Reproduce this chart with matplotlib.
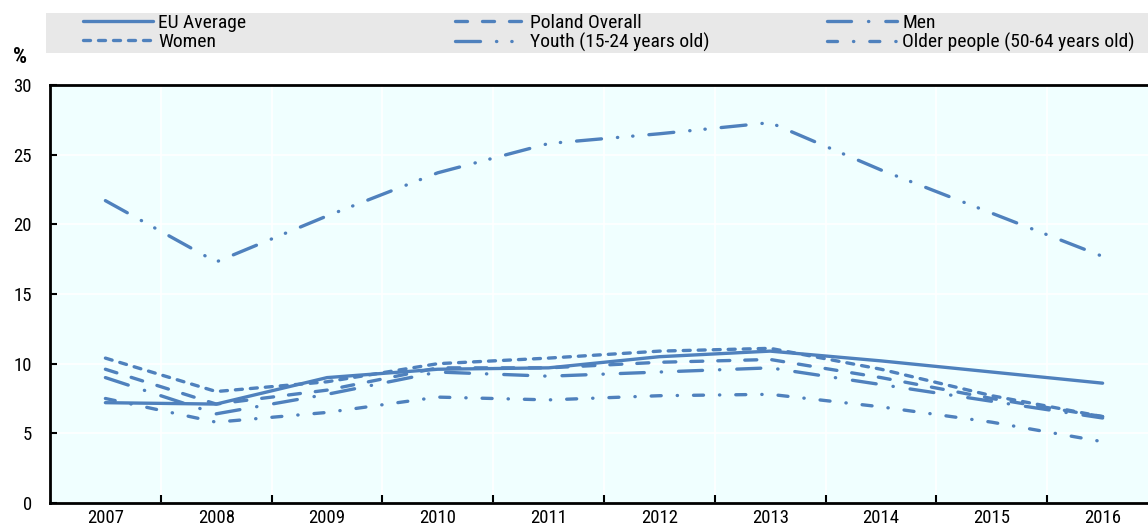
import matplotlib
matplotlib.use("Agg")
import matplotlib.pyplot as plt
from matplotlib.patches import Rectangle

years = ["2007", "2008", "2009", "2010", "2011", "2012", "2013", "2014", "2015", "2016"]
eu_average = [7.2, 7.1, 9.0, 9.6, 9.7, 10.5, 10.9, 10.2, 9.4, 8.6]
poland_overall = [9.6, 7.1, 8.1, 9.7, 9.7, 10.1, 10.3, 9.0, 7.5, 6.2]
men = [9.0, 6.4, 7.8, 9.4, 9.1, 9.4, 9.7, 8.5, 7.3, 6.1]
women = [10.4, 8.0, 8.7, 10.0, 10.4, 10.9, 11.1, 9.6, 7.7, 6.2]
youth = [21.7, 17.3, 20.6, 23.7, 25.8, 26.5, 27.3, 23.9, 20.8, 17.7]
older = [7.5, 5.8, 6.5, 7.6, 7.4, 7.7, 7.8, 6.9, 5.8, 4.4]

labels = ["EU Average", "Poland Overall", "Men", "Women",
          "Youth (15-24 years old)", "Older people (50-64 years old)"]

plt.rcParams['font.family'] = ['Arial Narrow', 'Liberation Sans Narrow', 'Roboto Condensed',
                               'Archivo Narrow', 'Liberation Sans', 'DejaVu Sans']
plt.rcParams['lines.scale_dashes'] = False

W, H = 1148, 527
fig = plt.figure(figsize=(W / 100, H / 100), dpi=100)

def px(v):
    return v * 0.72

color = '#4F81BD'
lw = 2.4
styles = {
    "EU Average": '-',
    "Poland Overall": (0, (px(12), px(15))),
    "Men": (0, (px(24), px(17), px(0.3), px(17))),
    "Women": (0, (px(7), px(8))),
    "Youth (15-24 years old)": (0, (px(25), px(16), px(0.3), px(15), px(0.3), px(16))),
    "Older people (50-64 years old)": (0, (px(10), px(16), px(0.3), px(16))),
}
series = {
    "EU Average": eu_average,
    "Poland Overall": poland_overall,
    "Men": men,
    "Women": women,
    "Youth (15-24 years old)": youth,
    "Older people (50-64 years old)": older,
}

ax = fig.add_axes([50 / W, (H - 503) / H, 1108 / W, (503 - 85) / H])
ax.set_facecolor('#F0FFFF')
x = list(range(len(years)))
for name in labels:
    ax.plot(x, series[name], color=color, lw=lw, linestyle=styles[name],
            dash_capstyle='round', solid_capstyle='round', label=name)

ax.set_xlim(-0.5, len(years) - 0.5)
ax.set_ylim(0, 30)
ax.set_yticks(range(0, 31, 5))
ax.set_xticks([i + 0.5 for i in range(len(years) - 1)])
ax.set_xticklabels([])
ax.set_xticks(x, minor=True)
ax.set_xticklabels(years, minor=True)
ax.tick_params(axis='x', which='major', direction='in', length=6, width=1.5, color='black')
ax.tick_params(axis='x', which='minor', length=0, pad=4, labelsize=13.5)
ax.tick_params(axis='y', direction='in', length=5, width=1.5, pad=13, labelsize=13.5)
ax.grid(True, which='major', color='white', lw=1.2)
ax.set_axisbelow(True)
for s in ['left', 'bottom', 'top']:
    ax.spines[s].set_linewidth(2)
    ax.spines[s].set_color('black')
ax.spines['right'].set_visible(False)

# legend background
fig.patches.append(Rectangle((46 / W, (H - 53) / H), (W - 46) / W, 40 / H,
                             transform=fig.transFigure, facecolor='#E8E8E8',
                             edgecolor='none', zorder=0))

handles = {l: h for h, l in zip(*ax.get_legend_handles_labels())}
cols = [(["EU Average", "Women"], 83), (["Poland Overall", "Youth (15-24 years old)"], 455),
        (["Men", "Older people (50-64 years old)"], 827)]
for names, xpos in cols:
    fig.legend([handles[n] for n in names], names, loc='upper left',
               bbox_to_anchor=(xpos / W, (H - 14) / H), frameon=False,
               fontsize=14, handlelength=3.6, handletextpad=0.28,
               labelspacing=0.05, borderpad=0, borderaxespad=0)

fig.text(20 / W, (H - 57) / H, '%', fontsize=16, fontweight='bold', ha='center', va='center')

fig.savefig('out.png', dpi=100)
